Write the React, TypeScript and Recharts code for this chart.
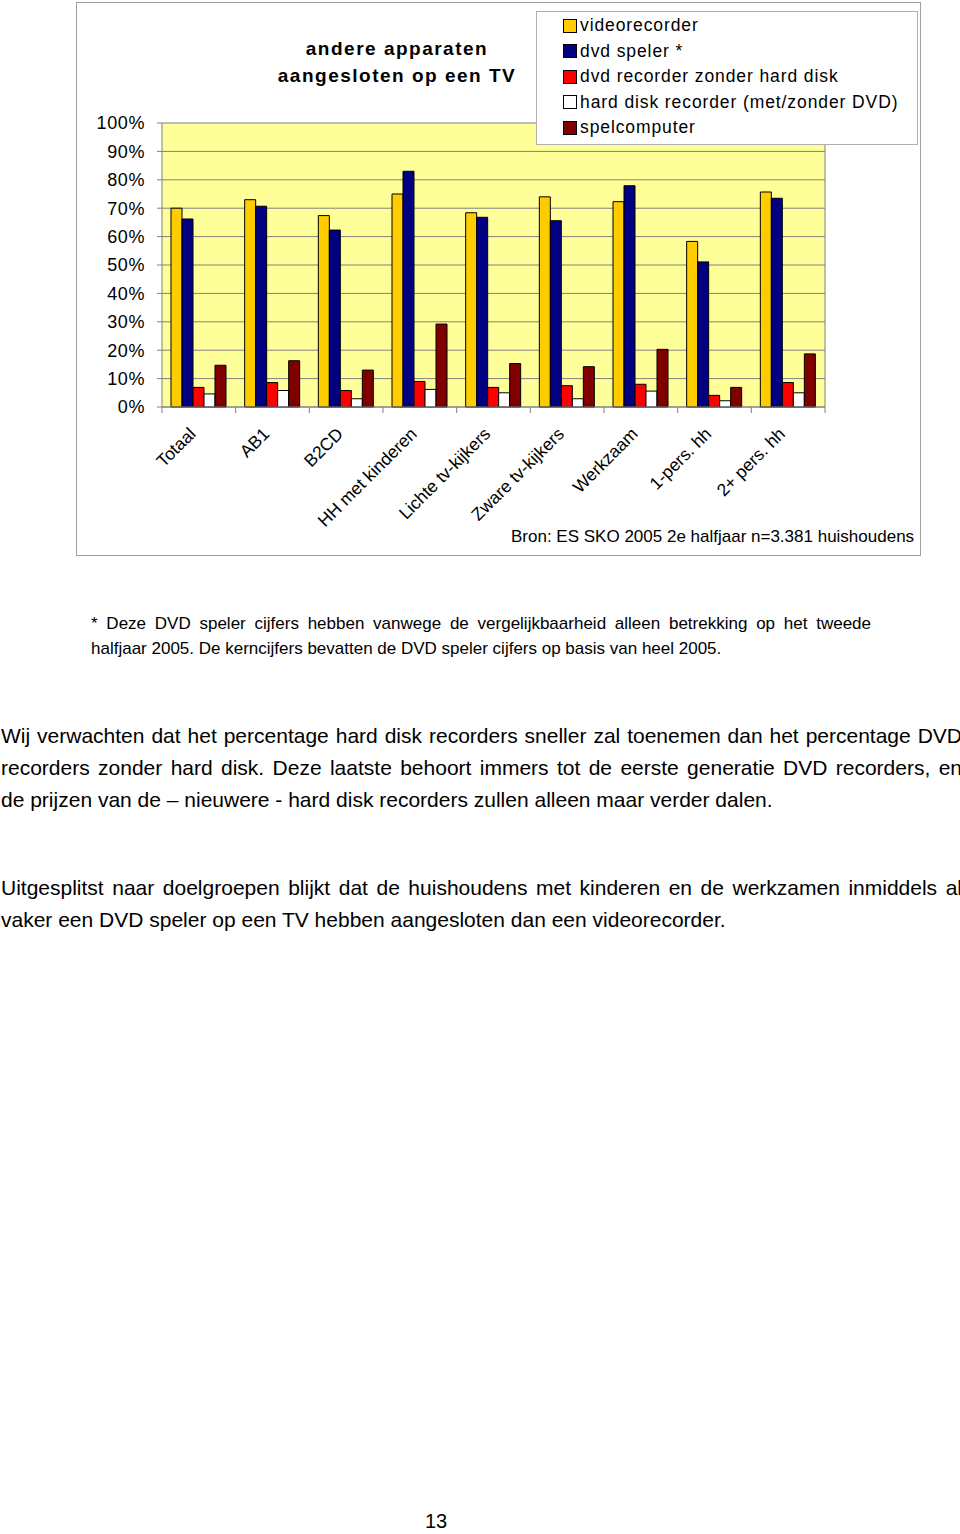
import React from "react";
import {
  BarChart,
  Bar,
  XAxis,
  YAxis,
  CartesianGrid,
} from "recharts";

const categories = [
  "Totaal",
  "AB1",
  "B2CD",
  "HH met kinderen",
  "Lichte tv-kijkers",
  "Zware tv-kijkers",
  "Werkzaam",
  "1-pers. hh",
  "2+ pers. hh",
];
const videorecorder = [70, 73, 67.4, 75, 68.4, 74, 72.3, 58.3, 75.7];
const dvdSpeler = [66.2, 70.7, 62.3, 83, 66.8, 65.6, 77.9, 51.1, 73.5];
const dvdRecorder = [6.9, 8.6, 5.8, 9, 6.9, 7.5, 8, 4.1, 8.6];
const hardDisk = [4.6, 5.8, 2.9, 6.2, 5, 2.9, 5.6, 2.2, 5];
const spelcomputer = [14.7, 16.3, 13, 29.2, 15.3, 14.2, 20.3, 6.9, 18.7];
const yTicks = [0, 10, 20, 30, 40, 50, 60, 70, 80, 90, 100];

const seriesNames = [
  "videorecorder",
  "dvd speler *",
  "dvd recorder zonder hard disk",
  "hard disk recorder (met/zonder DVD)",
  "spelcomputer",
];
const seriesColors = ["#FFCC00", "#000080", "#FF0000", "#FFFFFF", "#800000"];

const data = categories.map((c, i) => ({
  cat: c,
  s0: videorecorder[i],
  s1: dvdSpeler[i],
  s2: dvdRecorder[i],
  s3: hardDisk[i],
  s4: spelcomputer[i],
}));

const FONT = "'Liberation Sans', Arial, sans-serif";
const PLOT_W = 663;
const BAND = PLOT_W / categories.length;

function CatTick(props: any) {
  const { x, y, payload, index } = props;
  const bx = x - BAND / 2;
  return (
    <g>
      <line x1={bx} y1={y} x2={bx} y2={y + 6} stroke="#808080" />
      {index === categories.length - 1 && (
        <line x1={x + BAND / 2} y1={y} x2={x + BAND / 2} y2={y + 6} stroke="#808080" />
      )}
      <text
        x={x - 2}
        y={y + 28}
        textAnchor="end"
        transform={`rotate(-45 ${x - 2} ${y + 28})`}
        fontSize={17.5}
        fontFamily={FONT}
        fill="#000"
      >
        {payload.value}
      </text>
    </g>
  );
}

function LegendBox() {
  return (
    <div
      style={{
        position: "absolute",
        left: 536,
        top: 11,
        width: 382,
        height: 134,
        background: "#fff",
        border: "1px solid #b0b0b0",
        boxSizing: "border-box",
        paddingTop: 1,
        paddingLeft: 26,
        fontFamily: FONT,
        fontSize: 17.5,
        letterSpacing: 0.9,
      }}
    >
      {seriesNames.map((n, i) => (
        <div
          key={n}
          style={{ display: "flex", alignItems: "center", height: 25.5 }}
        >
          <span
            style={{
              width: 12,
              height: 12,
              background: seriesColors[i],
              border: "1px solid #000",
              marginRight: 3,
              display: "inline-block",
              flexShrink: 0,
            }}
          />
          <span style={{ whiteSpace: "nowrap" }}>{n}</span>
        </div>
      ))}
    </div>
  );
}

export default function App() {
  return (
    <div
      style={{
        position: "absolute",
        left: 0,
        top: 0,
        width: 960,
        height: 1534,
        background: "#fff",
        fontFamily: FONT,
        color: "#000",
      }}
    >
      {/* chart frame */}
      <div
        style={{
          position: "absolute",
          left: 76,
          top: 2,
          width: 845,
          height: 554,
          border: "1px solid #a0a0a0",
          boxSizing: "border-box",
        }}
      />
      <div style={{ position: "absolute", left: 0, top: 0 }}>
        <BarChart
          width={960}
          height={560}
          data={data}
          margin={{ top: 123, right: 135, left: 102, bottom: 23 }}
          barGap={0}
          barCategoryGap={9}
        >
          <CartesianGrid
            fill="#FFFF99"
            stroke="#808080"
            verticalPoints={[825]}
          />
          <XAxis
            dataKey="cat"
            interval={0}
            height={130}
            tickLine={false}
            tickSize={0}
            tickMargin={0}
            axisLine={{ stroke: "#808080" }}
            tick={<CatTick />}
          />
          <YAxis
            domain={[0, 100]}
            ticks={yTicks}
            interval={0}
            width={60}
            tickFormatter={(v: number) => `${v}%`}
            axisLine={{ stroke: "#808080" }}
            tickLine={{ stroke: "#808080" }}
            tickSize={5}
            tickMargin={12}
            tick={{ fontSize: 18, fill: "#000", fontFamily: FONT, letterSpacing: 0.6 }}
          />
          {seriesNames.map((n, i) => (
            <Bar
              key={n}
              dataKey={`s${i}`}
              name={n}
              fill={seriesColors[i]}
              stroke="#000"
              strokeWidth={1}
              isAnimationActive={false}
            />
          ))}
        </BarChart>
      </div>

      <LegendBox />

      {/* title */}
      <div
        style={{
          position: "absolute",
          left: 247,
          top: 35,
          width: 300,
          textAlign: "center",
          fontWeight: "bold",
          fontSize: 19,
          letterSpacing: 1.5,
          lineHeight: "27px",
        }}
      >
        andere apparaten
        <br />
        aangesloten op een TV
      </div>

      {/* source */}
      <div
        style={{
          position: "absolute",
          left: 511,
          top: 527,
          fontSize: 17,
          whiteSpace: "nowrap",
        }}
      >
        Bron: ES SKO 2005 2e halfjaar n=3.381 huishoudens
      </div>

      {/* footnote */}
      <div
        style={{
          position: "absolute",
          left: 91,
          top: 611,
          width: 780,
          fontSize: 17,
          lineHeight: "25px",
        }}
      >
        <div style={{ textAlign: "justify", textAlignLast: "justify" }}>
          * Deze DVD speler cijfers hebben vanwege de vergelijkbaarheid alleen
          betrekking op het tweede
        </div>
        <div>
          halfjaar 2005. De kerncijfers bevatten de DVD speler cijfers op basis
          van heel 2005.
        </div>
      </div>

      {/* paragraph 1 */}
      <div
        style={{
          position: "absolute",
          left: 1,
          top: 720,
          width: 961,
          fontSize: 21,
          lineHeight: "32px",
        }}
      >
        <div style={{ textAlign: "justify", textAlignLast: "justify" }}>
          Wij verwachten dat het percentage hard disk recorders sneller zal
          toenemen dan het percentage DVD
        </div>
        <div style={{ textAlign: "justify", textAlignLast: "justify" }}>
          recorders zonder hard disk. Deze laatste behoort immers tot de eerste
          generatie DVD recorders, en
        </div>
        <div>
          de prijzen van de – nieuwere - hard disk recorders zullen alleen maar
          verder dalen.
        </div>
      </div>

      {/* paragraph 2 */}
      <div
        style={{
          position: "absolute",
          left: 1,
          top: 872,
          width: 961,
          fontSize: 21,
          lineHeight: "32px",
        }}
      >
        <div style={{ textAlign: "justify", textAlignLast: "justify" }}>
          Uitgesplitst naar doelgroepen blijkt dat de huishoudens met kinderen
          en de werkzamen inmiddels al
        </div>
        <div>
          vaker een DVD speler op een TV hebben aangesloten dan een
          videorecorder.
        </div>
      </div>

      {/* page number */}
      <div
        style={{
          position: "absolute",
          left: 425,
          top: 1510,
          fontSize: 20,
        }}
      >
        13
      </div>
    </div>
  );
}
